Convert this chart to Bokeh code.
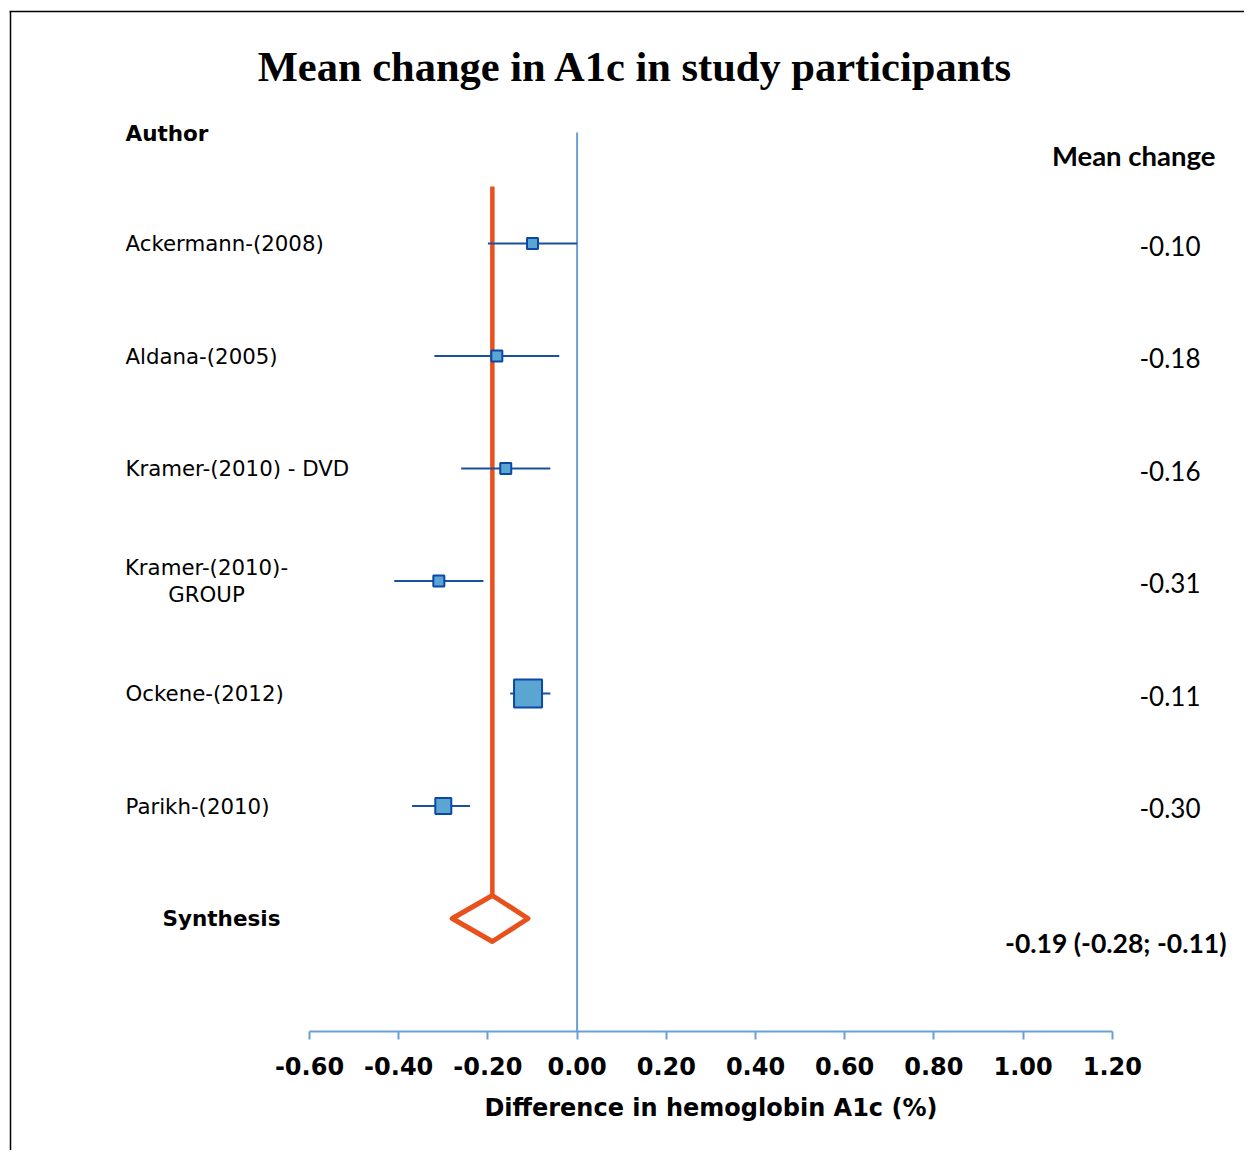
from bokeh.plotting import figure
from bokeh.models import Range1d, LinearAxis, FixedTicker, ColumnDataSource
from bokeh.core.properties import value
from bokeh.embed import file_html
from bokeh.resources import INLINE

# ---------------- data ----------------
authors = ["Ackermann-(2008)", "Aldana-(2005)", "Kramer-(2010) - DVD",
           "Kramer-(2010)-\nGROUP", "Ockene-(2012)", "Parikh-(2010)"]
mean_change = [-0.10, -0.18, -0.16, -0.31, -0.11, -0.30]
ci_low = [-0.20, -0.32, -0.26, -0.41, -0.15, -0.37]
ci_high = [0.00, -0.04, -0.06, -0.21, -0.06, -0.24]
synth_est = -0.19
synth_low = -0.28
synth_high = -0.11
x_ticks = [-0.6, -0.4, -0.2, 0.0, 0.2, 0.4, 0.6, 0.8, 1.0, 1.2]
x_tick_labels = ["-0.60", "-0.40", "-0.20", "0.00", "0.20", "0.40", "0.60", "0.80", "1.00", "1.20"]

# ---------------- layout helpers (page pixels -> data) ----------------
W, H = 1244, 1150
X0_PX, PX_PER_UNIT = 576.6, 446.0
ROW0_PX, ROW_PX = 243.0, 112.5


def xd(px):
    return (px - X0_PX) / PX_PER_UNIT


def yd(px):
    return (px - ROW0_PX) / ROW_PX


rows = list(range(len(authors)))
synth_row = len(authors)
sq_sizes = [11, 11, 11, 11, 28, 16]

BLUE_LINE = "#1B4FA0"
BLUE_FILL = "#5BA5D2"
AXIS_BLUE = "#6A9FD4"
ORANGE = "#E8501C"

p = figure(width=W, height=H, output_backend="svg", toolbar_location=None,
           x_range=Range1d(xd(0), xd(W)), y_range=Range1d(yd(H), yd(0)),
           x_axis_type=None, y_axis_type=None, min_border=0)
p.outline_line_color = None
p.background_fill_color = "white"
p.border_fill_color = "white"

# frame lines (left & top)
p.segment(x0=[xd(10), xd(9)], y0=[yd(11), yd(11)], x1=[xd(10), xd(W + 5)], y1=[yd(H + 5), yd(11)],
          line_color="black", line_width=1.5)

# vertical reference line at 0
p.segment(x0=[0], y0=[yd(132)], x1=[0], y1=[yd(1031)], line_color=AXIS_BLUE, line_width=2)

# pooled estimate line
dh = 23 / ROW_PX
p.segment(x0=[synth_est], y0=[yd(186)], x1=[synth_est], y1=[synth_row - dh],
          line_color=ORANGE, line_width=4.5)

# CIs
src = ColumnDataSource(dict(row=rows, m=mean_change, lo=ci_low, hi=ci_high, s=sq_sizes))
p.segment(x0="lo", y0="row", x1="hi", y1="row", source=src, line_color=BLUE_LINE, line_width=2.2)
p.scatter(x="m", y="row", size="s", marker="square", source=src,
          fill_color=BLUE_FILL, line_color="#0B48A8", line_width=2)

# diamond
p.patch(x=[synth_low, synth_est, synth_high, synth_est],
        y=[synth_row, synth_row - dh, synth_row, synth_row + dh],
        fill_color="white", line_color=ORANGE, line_width=5, line_join="round")

# axis
ax = LinearAxis(fixed_location=yd(1031), ticker=FixedTicker(ticks=x_ticks), bounds=(-0.6, 1.2))
ax.major_label_overrides = {t: l for t, l in zip(x_ticks, x_tick_labels)}
ax.axis_line_color = AXIS_BLUE
ax.axis_line_width = 2
ax.major_tick_line_color = AXIS_BLUE
ax.major_tick_line_width = 2
ax.major_tick_in = 0
ax.major_tick_out = 8
ax.minor_tick_line_color = None
ax.major_label_text_font = "DejaVu Sans"
ax.major_label_text_font_style = "bold"
ax.major_label_text_font_size = "24px"
ax.major_label_text_color = "black"
ax.major_label_standoff = 17
p.add_layout(ax, "below")

F = value("DejaVu Sans")
L = value("Lato")

# title
p.text(x=[xd(635)], y=[yd(66)], text=["Mean change in A1c in study participants"],
       text_font=value("Liberation Serif"), text_font_style="bold", text_font_size="42.5px",
       text_align="center", text_baseline="middle", text_color="black")

# axis label
p.text(x=[(x_ticks[0] + x_ticks[-1]) / 2], y=[yd(1107)], text=["Difference in hemoglobin A1c (%)"],
       text_font=F, text_font_style="bold", text_font_size="24px",
       text_align="center", text_baseline="middle", text_color="black")

# headers
p.text(x=[xd(125)], y=[yd(133)], text=["Author"], text_font=F, text_font_style="bold",
       text_font_size="21.5px", text_align="left", text_baseline="middle", text_color="black")
p.text(x=[xd(1215)], y=[yd(155)], text=["Mean change"], text_font=L, text_font_style="bold",
       text_font_size="27.5px", text_align="right", text_baseline="middle", text_color="black")

# author labels
single = [i for i, a in enumerate(authors) if "\n" not in a]
multi = [i for i, a in enumerate(authors) if "\n" in a]
p.text(x=[xd(125)] * len(single), y=[rows[i] for i in single], text=[authors[i] for i in single],
       text_font=F, text_font_size="21.3px", text_align="left", text_baseline="middle",
       text_color="black")
p.text(x=[xd(206)] * len(multi), y=[rows[i] for i in multi], text=[authors[i] for i in multi],
       text_font=F, text_font_size="21.3px", text_align="center", text_baseline="middle",
       text_color="black", text_line_height=1.05)
p.text(x=[xd(221)], y=[synth_row], text=["Synthesis"], text_font=F, text_font_style="bold",
       text_font_size="21.5px", text_align="center", text_baseline="middle", text_color="black")

# right column values
p.text(x=[xd(1200)] * len(rows), y=[r + 2 / ROW_PX for r in rows],
       text=[f"{v:.2f}" for v in mean_change], text_font=L, text_font_size="26px",
       text_align="right", text_baseline="middle", text_color="black")
p.text(x=[xd(1226)], y=[synth_row + 24 / ROW_PX],
       text=[f"{synth_est:.2f} ({synth_low:.2f}; {synth_high:.2f})"], text_font=L,
       text_font_style="bold", text_font_size="26.5px", text_align="right",
       text_baseline="middle", text_color="black")

open("out.html", "w").write(file_html(p, INLINE))
